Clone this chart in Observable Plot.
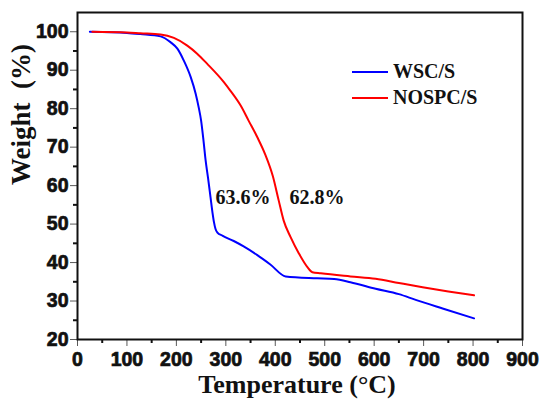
<!DOCTYPE html>
<html>
<head>
<meta charset="utf-8">
<script src="https://cdn.jsdelivr.net/npm/d3@7"></script>
<script src="https://cdn.jsdelivr.net/npm/@observablehq/plot@0.6"></script>
<style>
  html, body { margin: 0; padding: 0; background: #fff; }
  #chart svg { display: block; background: #fff; }
  #chart svg g.ticklab text, #chart svg g.ticklab {
    font-family: "Liberation Sans", Arial, sans-serif !important;
    font-weight: 700 !important;
    font-size: 19.5px !important;
    fill: #111 !important;
    stroke: #111 !important;
    stroke-width: 0.7px !important;
  }
</style>
</head>
<body>
<div id="chart"></div>
<script>
// WSC/S series
const wscTemp   = [25, 100, 127, 168, 188, 202, 215, 229, 239, 245, 250, 255, 259, 264, 269, 273, 276, 279, 283, 293, 316, 336, 363, 390, 421, 485, 519, 552, 603, 650, 684, 740, 802];
const wscWeight = [100, 99.7, 99.4, 98.8, 97.3, 95.6, 92.5, 88.2, 83.9, 80.4, 76.9, 71.5, 66.7, 62.0, 57.0, 53.0, 50.5, 48.8, 47.8, 47.0, 45.6, 44.2, 42.0, 39.5, 36.4, 35.9, 35.7, 34.9, 33.2, 31.8, 30.3, 28.0, 25.5];
// NOSPC/S series
const nospcTemp   = [30, 100, 127, 168, 195, 222, 242, 262, 296, 309, 330, 346, 364, 380, 395, 407, 417, 431, 448, 465, 475, 492, 552, 603, 650, 698, 750, 802];
const nospcWeight = [100, 99.8, 99.6, 99.3, 98.4, 96.4, 94.3, 91.7, 86.9, 84.7, 80.8, 76.9, 72.5, 68.0, 62.5, 56.1, 50.9, 46.6, 42.3, 38.8, 37.5, 37.2, 36.4, 35.8, 34.7, 33.6, 32.5, 31.5];

const seriesNames  = ["WSC/S", "NOSPC/S"];
const seriesColors = ["#0000ff", "#ff0000"];

// annotations
const annoText = ["63.6%", "62.8%"];
const annoTemp = [279, 429];
const annoWeight = [57.0, 57.0];

// ticks
const xMajor = [0, 100, 200, 300, 400, 500, 600, 700, 800, 900];
const xMinor = [50, 150, 250, 350, 450, 550, 650, 750, 850];
const yMajor = [20, 30, 40, 50, 60, 70, 80, 90, 100];
const yMinor = [25, 35, 45, 55, 65, 75, 85, 95];

const wsc = wscTemp.map((t, i) => ({t, w: wscWeight[i], s: seriesNames[0]}));
const nospc = nospcTemp.map((t, i) => ({t, w: nospcWeight[i], s: seriesNames[1]}));
const annos = annoText.map((text, i) => ({text, t: annoTemp[i], w: annoWeight[i]}));

const serif = "Liberation Serif, Times New Roman, serif";

const plot = Plot.plot({
  width: 550,
  height: 409,
  marginLeft: 77,
  marginRight: 28,
  marginTop: 12,
  marginBottom: 70,
  style: {background: "#fff", overflow: "visible"},
  x: {domain: [0, 900]},
  y: {domain: [20, 105]},
  marks: [
    Plot.axisX(xMajor, {tickSize: 7, tickPadding: 6, strokeWidth: 2, stroke: "#111", label: null, tickFormat: d => String(d),
      fontWeight: "bold", fontSize: 19.5, fontFamily: "Liberation Sans, Arial, sans-serif", className: "ticklab"}),
    Plot.axisX(xMinor, {tickSize: 4, strokeWidth: 2, stroke: "#111", label: null, tickFormat: () => ""}),
    Plot.axisY(yMajor, {tickSize: 7, tickPadding: 2, strokeWidth: 2, stroke: "#111", label: null, tickFormat: d => String(d),
      fontWeight: "bold", fontSize: 19.5, fontFamily: "Liberation Sans, Arial, sans-serif", className: "ticklab"}),
    Plot.axisY(yMinor, {tickSize: 4, strokeWidth: 2, stroke: "#111", label: null, tickFormat: () => ""}),
    Plot.line(wsc, {x: "t", y: "w", stroke: seriesColors[0], strokeWidth: 2, curve: "monotone-x"}),
    Plot.line(nospc, {x: "t", y: "w", stroke: seriesColors[1], strokeWidth: 2, curve: "monotone-x"}),
    Plot.text(annos, {x: "t", y: "w", text: "text", textAnchor: "start", lineAnchor: "middle",
      fontFamily: serif, fontWeight: "bold", fontSize: 20, fill: "#111"}),
    Plot.text(["Temperature (°C)"], {frameAnchor: "bottom", dy: 45, dx: -3, lineAnchor: "middle",
      fontFamily: serif, fontWeight: "bold", fontSize: 26, fill: "#111"}),
    Plot.text(["Weight\u00a0\u00a0(%)"], {frameAnchor: "left", rotate: -90, dx: -56, dy: 9, lineAnchor: "middle",
      fontFamily: serif, fontWeight: "bold", fontSize: 27, fill: "#111"}),
    Plot.frame({stroke: "#111", strokeWidth: 2})
  ]
});

const svg = d3.select(plot);
// tick label styling (fallback)
svg.selectAll("g").filter(function() {
  const a = this.getAttribute("aria-label") || "";
  return a.indexOf("tick label") >= 0;
}).attr("class", "ticklab")
  .attr("font-family", "Liberation Sans, Arial, sans-serif")
  .attr("font-weight", "bold")
  .attr("font-size", 19.5)
  .attr("fill", "#111");

// legend (layout only)
const legend = svg.append("g").attr("text-anchor", "start");
const legendRows = [78, 104];
seriesNames.forEach((name, i) => {
  const yb = legendRows[i];
  legend.append("line")
    .attr("x1", 352).attr("x2", 388)
    .attr("y1", yb - 6).attr("y2", yb - 6)
    .attr("stroke", seriesColors[i]).attr("stroke-width", 2);
  legend.append("text")
    .attr("x", 393).attr("y", yb)
    .attr("text-anchor", "start")
    .attr("font-family", serif)
    .attr("font-weight", "bold").attr("font-size", 20).attr("fill", "#111")
    .text(name);
});

document.getElementById("chart").appendChild(plot);
</script>
</body>
</html>
